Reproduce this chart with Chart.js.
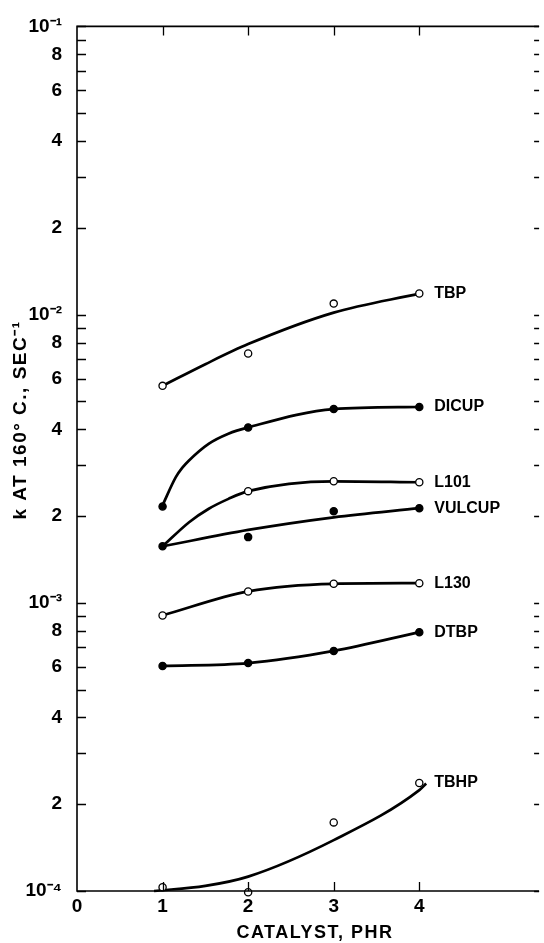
<!DOCTYPE html>
<html lang="en">
<head>
<meta charset="UTF-8" />
<title>k at 160 C vs catalyst level</title>
<script src="https://cdn.jsdelivr.net/npm/chart.js"></script>
<style>
  html, body { margin: 0; padding: 0; background: #fff; }
  #wrap { width: 544px; height: 943px; }
</style>
</head>
<body>
<div id="wrap"><canvas id="chart" width="544" height="943"></canvas></div>
<script>
  // measured points, k (sec^-1) at 1..4 phr
  const phr = [1, 2, 3, 4];
  const tbpPts    = [5.66e-3, 7.33e-3, 1.092e-2, 1.183e-2];
  const dicupPts  = [2.16e-3, 4.06e-3, 4.70e-3, 4.78e-3];
  const l101Pts   = [null, 2.44e-3, 2.64e-3, 2.62e-3];
  const vulcupPts = [1.57e-3, 1.69e-3, 2.08e-3, 2.13e-3];
  const l130Pts   = [9.04e-4, 1.095e-3, 1.164e-3, 1.17e-3];
  const dtbpPts   = [6.04e-4, 6.18e-4, 6.81e-4, 7.91e-4];
  const tbhpPts   = [1.03e-4, 9.9e-5, 1.73e-4, 2.37e-4];

  // smoothed curves
  const tbpCurveX    = [1, 1.5, 2, 3, 4];
  const tbpCurveY    = [5.66e-3, 6.73e-3, 7.90e-3, 1.016e-2, 1.183e-2];
  const dicupCurveX  = [1, 1.153, 1.229, 1.306, 1.538, 1.769, 2, 3, 4];
  const dicupCurveY  = [2.18e-3, 2.724e-3, 2.937e-3, 3.112e-3, 3.56e-3, 3.86e-3, 4.06e-3, 4.70e-3, 4.78e-3];
  const l101CurveX   = [1, 1.31, 1.54, 1.77, 2, 3, 4];
  const l101CurveY   = [1.57e-3, 1.904e-3, 2.12e-3, 2.294e-3, 2.44e-3, 2.64e-3, 2.62e-3];
  const vulcupCurveX = [1, 2, 3, 4];
  const vulcupCurveY = [1.57e-3, 1.79e-3, 1.98e-3, 2.13e-3];
  const l130CurveX   = [1, 2, 3, 4];
  const l130CurveY   = [9.04e-4, 1.095e-3, 1.164e-3, 1.17e-3];
  const dtbpCurveX   = [1, 2, 3, 4];
  const dtbpCurveY   = [6.04e-4, 6.18e-4, 6.81e-4, 7.91e-4];
  const tbhpCurveX   = [0.9, 1.5, 2, 3, 4, 4.08];
  const tbhpCurveY   = [1.0e-4, 1.042e-4, 1.122e-4, 1.502e-4, 2.239e-4, 2.36e-4];

  const names = ['TBP', 'DICUP', 'L101', 'VULCUP', 'L130', 'DTBP', 'TBHP'];

  // axis ticks
  const xTicks = [0, 1, 2, 3, 4];
  const xMarks = [1, 2, 3, 4];
  const decades = [-4, -3, -2, -1];
  const mantissas = [1, 2, 3, 4, 5, 6, 7, 8, 9];
  const labelledMantissas = [2, 4, 6, 8];
  const supers = { '-1': '⁻¹', '-2': '⁻²', '-3': '⁻³', '-4': '⁻⁴' };

  const yTicks = [];
  decades.forEach(d => mantissas.forEach(m => {
    const v = m * Math.pow(10, d);
    if (v <= 0.1000001) yTicks.push(v);
  }));

  const FONT = '"Liberation Sans", Arial, sans-serif';

  function pts(xs, ys) {
    return xs.map((x, i) => ({ x: x, y: ys[i] })).filter(p => p.y != null);
  }
  function curve(xs, ys) {
    return {
      data: pts(xs, ys), borderColor: '#000', borderWidth: 2.7, pointRadius: 0,
      cubicInterpolationMode: 'monotone', showLine: true, fill: false, order: 2, clip: false
    };
  }
  function marks(ys, open) {
    return {
      data: pts(phr, ys), showLine: false, pointRadius: 3.6, pointHoverRadius: 3.6,
      pointBorderWidth: 1.3, pointBorderColor: '#000',
      pointBackgroundColor: open ? '#fff' : '#000', order: 1, clip: false
    };
  }

  const lastPts = [tbpPts, dicupPts, l101Pts, vulcupPts, l130Pts, dtbpPts, tbhpPts];

  const frame = {
    id: 'frame',
    afterDatasetsDraw(chart) {
      const { ctx, chartArea: a, scales: { x, y } } = chart;
      ctx.save();
      ctx.strokeStyle = '#000';
      ctx.lineWidth = 1.6;
      ctx.beginPath();
      ctx.moveTo(a.right, a.top); ctx.lineTo(a.left, a.top);
      ctx.lineTo(a.left, a.bottom); ctx.lineTo(a.right, a.bottom);
      ctx.stroke();
      ctx.lineWidth = 1.3;
      ctx.beginPath();
      yTicks.forEach(v => {
        const py = Math.round(y.getPixelForValue(v)) + 0.5;
        ctx.moveTo(a.left, py); ctx.lineTo(a.left + 9, py);
        ctx.moveTo(a.right, py); ctx.lineTo(a.right - 5, py);
      });
      xMarks.forEach(v => {
        const px = Math.round(x.getPixelForValue(v)) + 0.5;
        ctx.moveTo(px, a.bottom); ctx.lineTo(px, a.bottom - 9);
        ctx.moveTo(px, a.top); ctx.lineTo(px, a.top + 9);
      });
      ctx.stroke();

      // series names
      ctx.fillStyle = '#000';
      ctx.font = 'bold 16px ' + FONT;
      ctx.textBaseline = 'middle';
      ctx.textAlign = 'left';
      names.forEach((n, i) => {
        const vals = lastPts[i];
        ctx.fillText(n, x.getPixelForValue(4) + 15, y.getPixelForValue(vals[vals.length - 1]));
      });

      // x title
      ctx.font = 'bold 18px ' + FONT;
      ctx.textAlign = 'center';
      ctx.letterSpacing = '1.5px';
      ctx.fillText('CATALYST, PHR', 315, 933);

      // y title
      ctx.font = 'bold 19px ' + FONT;
      ctx.translate(21, 420);
      ctx.rotate(-Math.PI / 2);
      ctx.fillText('k AT 160° C., SEC⁻¹', 0, 0);
      ctx.restore();
    }
  };

  new Chart(document.getElementById('chart'), {
    type: 'scatter',
    data: {
      datasets: [
        curve(tbpCurveX, tbpCurveY), marks(tbpPts, true),
        curve(dicupCurveX, dicupCurveY), marks(dicupPts, false),
        curve(l101CurveX, l101CurveY), marks(l101Pts, true),
        curve(vulcupCurveX, vulcupCurveY), marks(vulcupPts, false),
        curve(l130CurveX, l130CurveY), marks(l130Pts, true),
        curve(dtbpCurveX, dtbpCurveY), marks(dtbpPts, false),
        curve(tbhpCurveX, tbhpCurveY), marks(tbhpPts, true)
      ]
    },
    options: {
      responsive: false,
      animation: false,
      layout: { padding: { top: 25, right: 0, bottom: 0, left: 0 } },
      plugins: { legend: { display: false }, tooltip: { enabled: false } },
      scales: {
        x: {
          type: 'linear', min: 0, max: 5.4,
          grid: { display: false, drawTicks: false },
          border: { display: false },
          afterBuildTicks: s => { s.ticks = xTicks.map(v => ({ value: v })); },
          afterFit: s => { s.height = 52; },
          ticks: { color: '#000', padding: 4, font: { family: FONT, size: 19, weight: 'bold' }, callback: v => String(v) },
          title: { display: false }
        },
        y: {
          type: 'logarithmic', min: 1e-4, max: 1e-1,
          grid: { display: false, drawTicks: false },
          border: { display: false },
          afterBuildTicks: s => { s.ticks = yTicks.map(v => ({ value: v })); },
          afterFit: s => { s.width = 77; },
          ticks: {
            color: '#000', padding: 15, autoSkip: false,
            font: { family: FONT, size: 19, weight: 'bold' },
            callback: v => {
              const d = Math.floor(Math.log10(v) + 1e-9);
              const m = Math.round(v / Math.pow(10, d));
              if (m === 1) return '10' + supers[String(d)];
              return labelledMantissas.includes(m) ? String(m) : '';
            }
          }
        }
      }
    },
    plugins: [frame]
  });
</script>
</body>
</html>
